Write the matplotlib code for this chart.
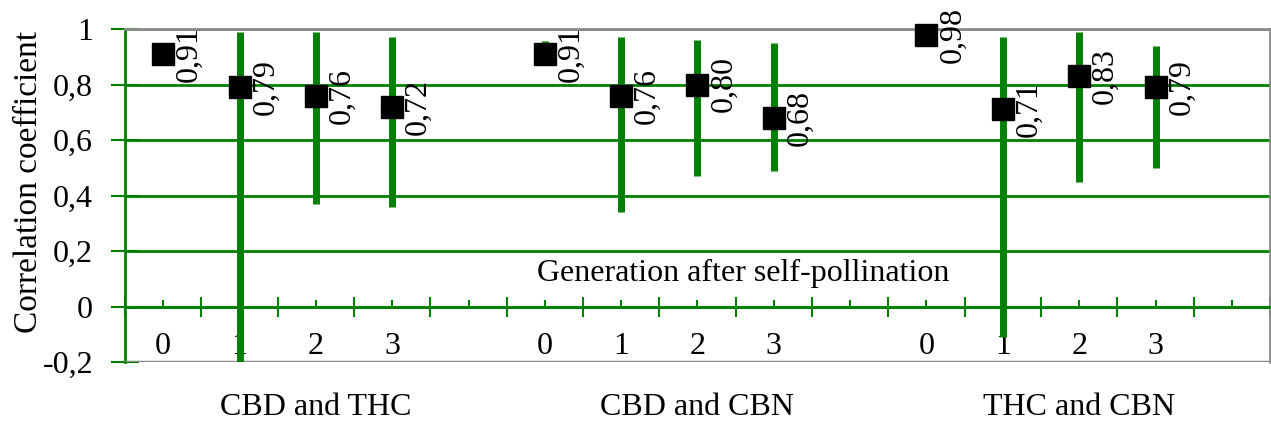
import matplotlib
matplotlib.use("Agg")
import matplotlib.pyplot as plt
import matplotlib.transforms as mtransforms
import numpy as np

# data: correlation coefficient and its interval per generation
groups = ["CBD and THC", "CBD and CBN", "THC and CBN"]
generations = ["0", "1", "2", "3"]

cbd_thc = [0.91, 0.79, 0.76, 0.72]
cbd_thc_lo = [0.91, -0.20, 0.37, 0.36]
cbd_thc_hi = [0.91, 0.99, 0.99, 0.97]

cbd_cbn = [0.91, 0.76, 0.80, 0.68]
cbd_cbn_lo = [0.88, 0.34, 0.47, 0.49]
cbd_cbn_hi = [0.955, 0.97, 0.96, 0.95]

thc_cbn = [0.98, 0.71, 0.83, 0.79]
thc_cbn_lo = [0.98, -0.11, 0.45, 0.50]
thc_cbn_hi = [0.98, 0.97, 0.99, 0.94]

y_ticks = [-0.2, 0, 0.2, 0.4, 0.6, 0.8, 1]
y_ticklabels = ["-0,2", "0", "0,2", "0,4", "0,6", "0,8", "1"]

GREEN = "#008000"
GRAY = "#8c8c8c"
FS = 23

plt.rcParams["font.family"] = ["Liberation Serif", "DejaVu Serif"]

fig = plt.figure(figsize=(12.71, 4.24), dpi=100)
ax = fig.add_axes([125 / 1271, 62 / 424, 1145 / 1271, 333 / 424])

series = [(cbd_thc, cbd_thc_lo, cbd_thc_hi),
          (cbd_cbn, cbd_cbn_lo, cbd_cbn_hi),
          (thc_cbn, thc_cbn_lo, thc_cbn_hi)]

slot = len(generations) + 1  # one empty slot after each group
for g, (vals, lo, hi) in enumerate(series):
    x = np.arange(len(vals)) + g * slot
    ax.vlines(x, lo, hi, color=GREEN, lw=5, zorder=3)
    ax.plot(x, vals, "s", color="black", ms=16.5, ls="none", zorder=4,
            clip_on=False)
    for xi, v in zip(x, vals):
        ax.annotate(f"{v:.2f}".replace(".", ","), (xi, v), xytext=(8.5, 0),
                    textcoords="offset points", rotation=90,
                    ha="left", va="center", fontsize=FS, zorder=5)

n_slots = slot * len(groups)
ax.set_xlim(-0.5, n_slots - 0.5)
ax.set_ylim(-0.2, 1)

# y axis
ax.set_yticks(y_ticks, y_ticklabels)
ax.tick_params(axis="y", direction="inout", length=20, width=1.5,
               color=GREEN, pad=13, labelsize=FS)
ax.grid(axis="y", color=GREEN, lw=2)

# x axis sits at y = 0
ax.spines["bottom"].set_position(("data", 0))
ax.spines["bottom"].set_color(GREEN)
ax.spines["bottom"].set_linewidth(2)
ax.spines["left"].set_color(GREEN)
ax.spines["left"].set_linewidth(2)
for s in ["top", "right"]:
    ax.spines[s].set_color(GRAY)
    ax.spines[s].set_linewidth(2)
ax.axhline(-0.2, color=GRAY, lw=2.5, zorder=2.6)

ax.set_xticks(np.arange(-0.5, n_slots, 1), [""] * (n_slots + 1))
cat_labels = (generations + [""]) * len(groups)
ax.set_xticks(np.arange(n_slots), cat_labels, minor=True)
ax.tick_params(axis="x", which="major", direction="inout", length=14,
               width=1.5, color=GREEN)
ax.tick_params(axis="x", which="minor", direction="in", length=5,
               width=1.5, color=GREEN, pad=18, labelsize=FS)

ax.text(7.6, 0.12, "Generation after self-pollination", fontsize=FS,
        ha="center", va="center")

trans = mtransforms.blended_transform_factory(ax.transData, fig.transFigure)
for g, name in enumerate(groups):
    ax.text(g * slot + (slot - 1) / 2, 0.04, name, fontsize=FS,
            ha="center", va="center", transform=trans)

fig.text(0.023, 0.57, "Correlation coefficient", rotation=90, fontsize=24,
         ha="center", va="center")

fig.savefig("out.png", dpi=100)
